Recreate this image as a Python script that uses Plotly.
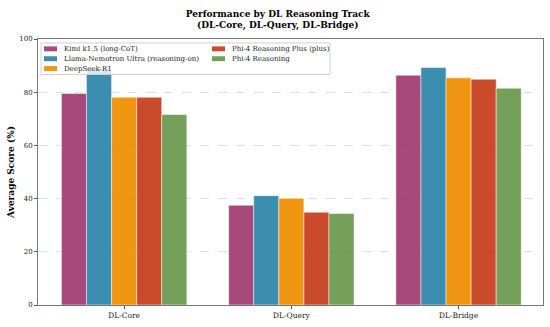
import plotly.graph_objects as go

categories = ["DL-Core", "DL-Query", "DL-Bridge"]
models = ["Kimi k1.5 (long-CoT)", "Llama-Nemotron Ultra (reasoning-on)", "DeepSeek-R1",
          "Phi-4 Reasoning Plus (plus)", "Phi-4 Reasoning"]
kimi = [79.5, 37.5, 86.4]
llama = [88.5, 41.1, 89.3]
deepseek = [78.1, 40.1, 85.4]
phi_plus = [78.1, 34.9, 84.9]
phi = [71.6, 34.4, 81.5]
series = [kimi, llama, deepseek, phi_plus, phi]
colors = ["#A23B72", "#2E86AB", "#F18F01", "#C73E1D", "#6A994E"]
y_ticks = [0, 20, 40, 60, 80, 100]

W, H = 550, 327
ML, MR, MT, MB = 38, 7, 39, 18
FONT = "DejaVu Serif"

def px(x):
    return (x - ML) / (W - ML - MR)

def py(y):
    return (H - MB - y) / (H - MT - MB)

fig = go.Figure()
for name, vals, c in zip(models, series, colors):
    fig.add_trace(go.Bar(x=categories, y=vals, name=name, marker_color=c,
                         opacity=0.93, marker_line=dict(color="white", width=0.5),
                         showlegend=False))

# manual legend (matplotlib-style compact legend, 2 columns)
shapes = [dict(type="rect", xref="paper", yref="paper", x0=px(41), x1=px(330),
               y0=py(75), y1=py(43), fillcolor="rgba(255,255,255,0.8)",
               line=dict(color="#d0d0d0", width=1), layer="above")]
annotations = []
positions = [(44, 49), (44, 59), (44, 69), (212, 49), (212, 59)]
for (x0, yc), name, c in zip(positions, models, colors):
    shapes.append(dict(type="rect", xref="paper", yref="paper", x0=px(x0), x1=px(x0 + 13),
                       y0=py(yc + 2.5), y1=py(yc - 2.5), fillcolor=c, opacity=0.93,
                       line=dict(width=0), layer="above"))
    annotations.append(dict(x=px(x0 + 18), y=py(yc), xref="paper", yref="paper",
                            text=name, showarrow=False, xanchor="left", yanchor="middle",
                            font=dict(family=FONT, size=7, color="#1a1a1a")))

fig.update_layout(
    width=W, height=H,
    margin=dict(l=ML, r=MR, t=MT, b=MB),
    paper_bgcolor="white", plot_bgcolor="white",
    barmode="group", bargap=0.25, bargroupgap=0,
    title=dict(text="<b>Performance by DL Reasoning Track<br>(DL-Core, DL-Query, DL-Bridge)</b>",
               x=0.505, xanchor="center", y=1 - 16.5 / H, yanchor="middle",
               font=dict(family=FONT, size=9, color="black")),
    font=dict(family=FONT, size=7, color="#222"),
    shapes=shapes, annotations=annotations,
)
fig.update_xaxes(range=[-0.515, 2.505], showline=True, linecolor="#777", linewidth=1,
                 mirror=True, ticks="outside", ticklen=3, tickcolor="#555",
                 tickfont=dict(family=FONT, size=7.5, color="#222"), showgrid=False)
fig.update_yaxes(range=[0, 100], tickvals=y_ticks, showline=True, linecolor="#777",
                 linewidth=1, mirror=True, ticks="outside", ticklen=3, tickcolor="#555",
                 tickfont=dict(family=FONT, size=7, color="#222"),
                 showgrid=True, gridcolor="#e0e0e0", gridwidth=0.6, griddash="dash",
                 zeroline=False, automargin=False,
                 title=dict(text="<b>Average Score (%)</b>", standoff=3,
                            font=dict(family=FONT, size=9, color="black")))

fig.write_html("out.html", config={"displayModeBar": False},
               post_script="document.body.style.margin='0';")
